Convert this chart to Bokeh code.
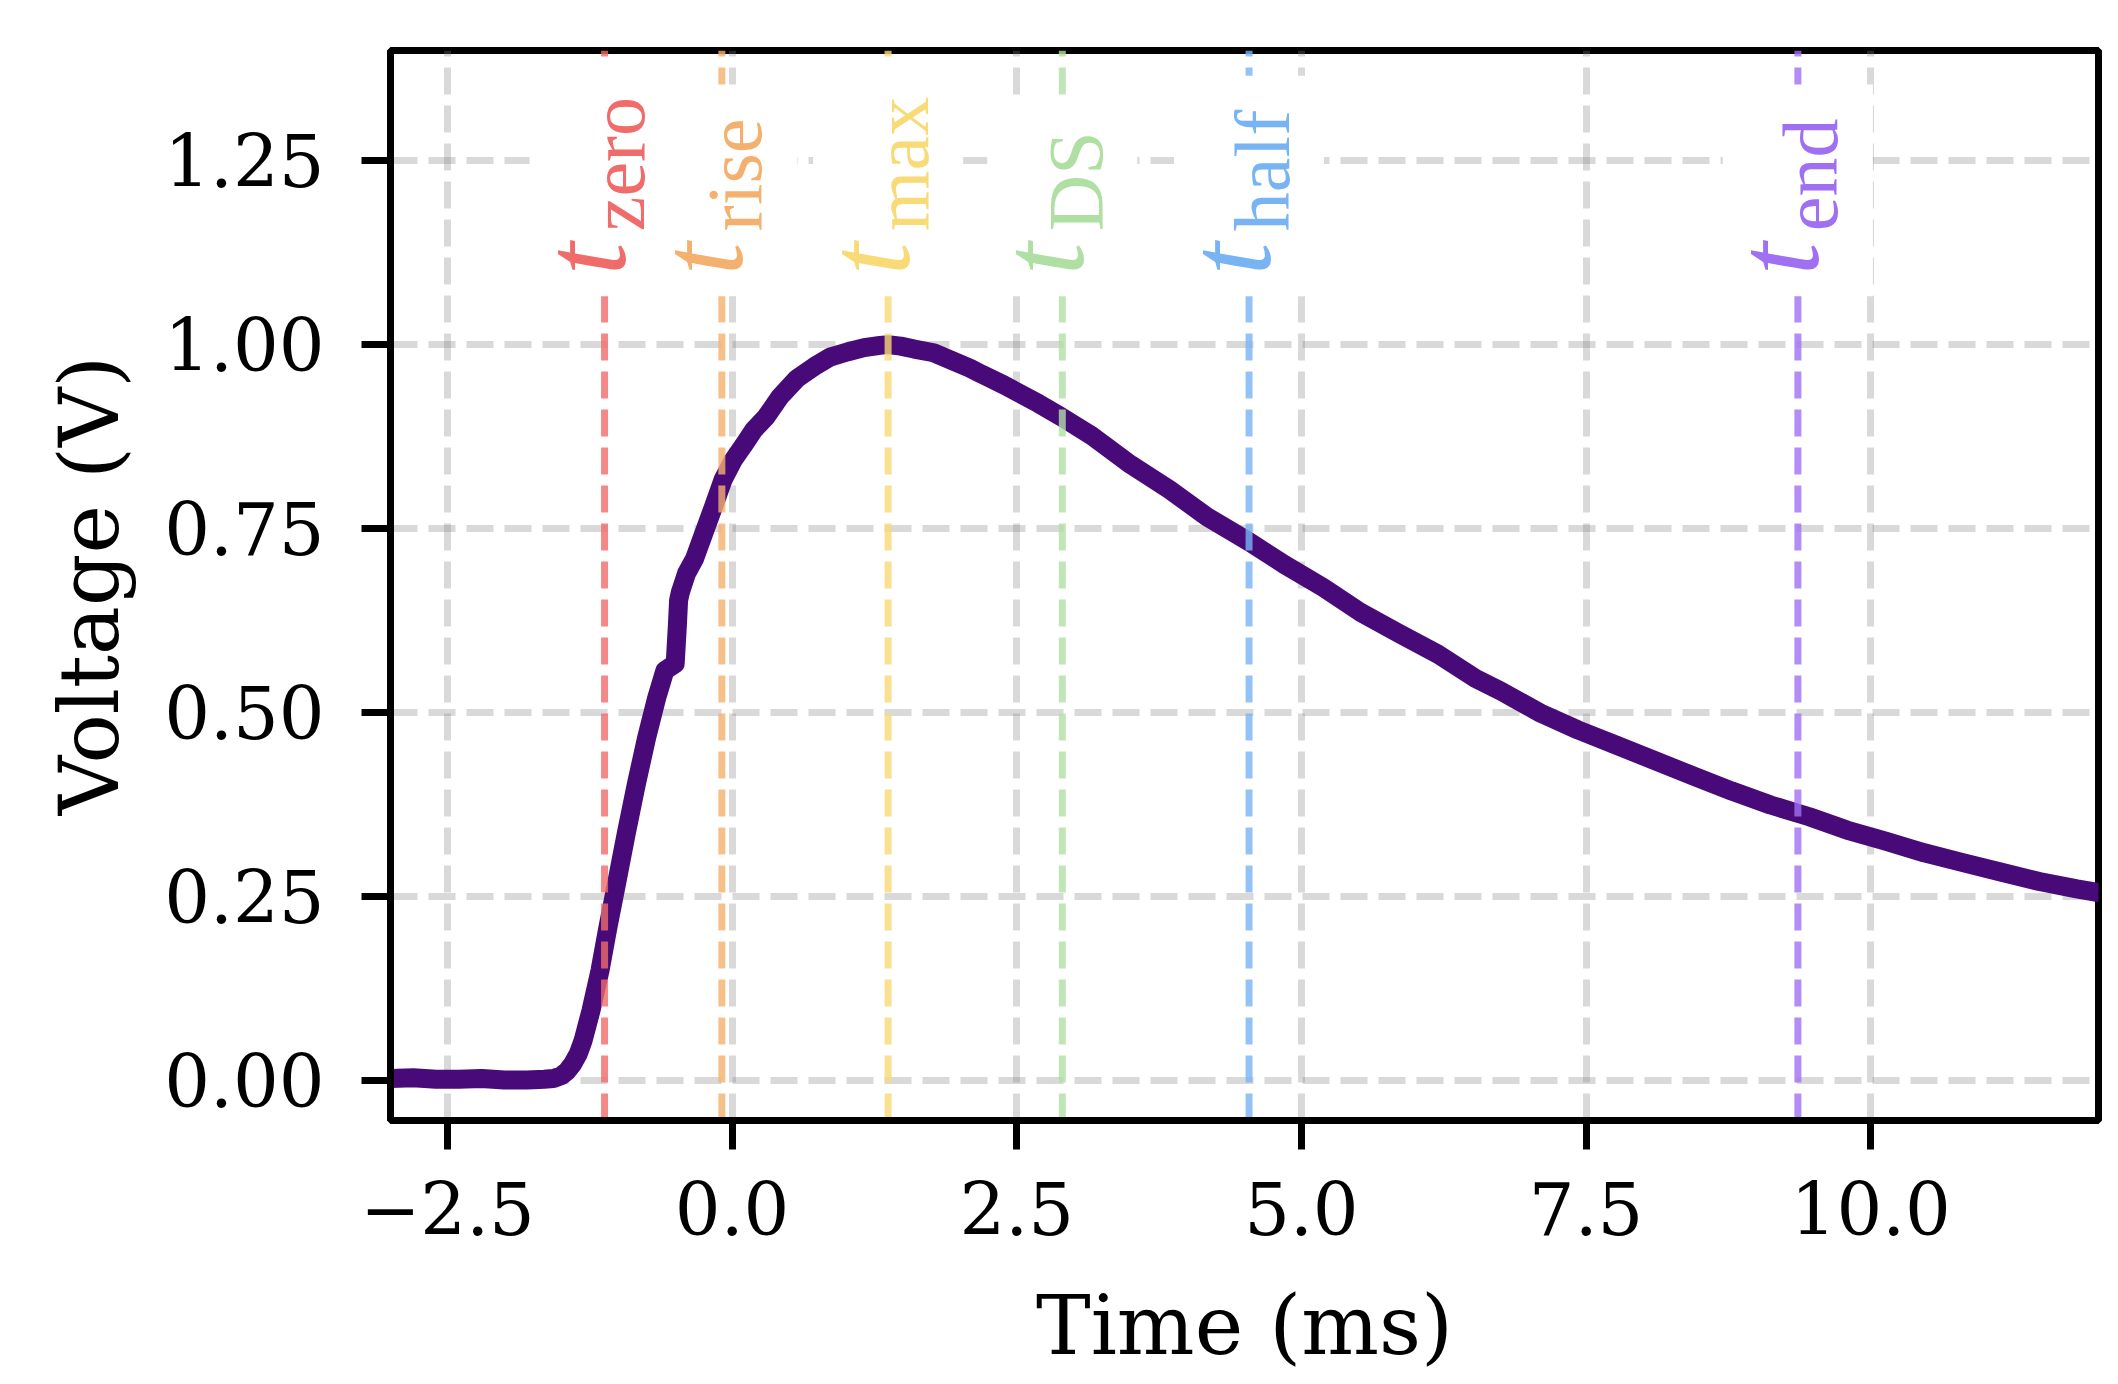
import math

from bokeh.core.properties import value
from bokeh.embed import file_html
from bokeh.models import ColumnDataSource, CustomJSTickFormatter, FixedTicker, Range1d
from bokeh.plotting import figure
from bokeh.resources import INLINE

# Normalised action-potential style voltage trace
time_ms = [
    -3.00, -2.80, -2.60, -2.40, -2.20, -2.00, -1.80, -1.65, -1.57,
    -1.50, -1.45, -1.40, -1.35, -1.31, -1.24, -1.16, -1.09, -1.015,
    -0.93, -0.84, -0.75, -0.66, -0.59, -0.55, -0.50, -0.48, -0.47,
    -0.455, -0.40, -0.33, -0.25, -0.165, -0.08, 0.01, 0.10, 0.19,
    0.30, 0.42, 0.57, 0.72, 0.86, 1.01, 1.16, 1.30, 1.37, 1.48,
    1.60, 1.77, 1.95, 2.09, 2.19, 2.39, 2.69, 2.89, 3.16, 3.50,
    3.84, 4.17, 4.54, 4.85, 5.19, 5.52, 5.86, 6.20, 6.53, 6.75,
    7.10, 7.43, 7.77, 8.11, 8.45, 8.78, 9.12, 9.46, 9.79, 10.13,
    10.47, 10.80, 11.14, 11.48, 11.81, 12.00,
]
voltage_v = [
    0.002, 0.003, 0.001, 0.001, 0.002, 0.000, 0.000, 0.001, 0.002,
    0.006, 0.012, 0.022, 0.036, 0.053, 0.094, 0.149, 0.208, 0.267,
    0.335, 0.403, 0.466, 0.521, 0.557, 0.561, 0.566, 0.620, 0.652,
    0.663, 0.689, 0.709, 0.743, 0.779, 0.816, 0.843, 0.863, 0.884,
    0.902, 0.929, 0.954, 0.970, 0.983, 0.990, 0.996, 0.999, 1.000, 0.998,
    0.994, 0.989, 0.977, 0.968, 0.960, 0.945, 0.920, 0.902, 0.876, 0.837,
    0.803, 0.766, 0.732, 0.701, 0.670, 0.636, 0.607, 0.579, 0.546, 0.529,
    0.499, 0.476, 0.455, 0.434, 0.413, 0.393, 0.374, 0.358, 0.340, 0.325,
    0.309, 0.296, 0.283, 0.270, 0.260, 0.255,
]

# Characteristic time points
marker_names = ["zero", "rise", "max", "DS", "half", "end"]
marker_times = [-1.12, -0.09, 1.37, 2.90, 4.54, 9.36]
marker_colors = ["#ef6c6a", "#f4b06e", "#f8da76", "#b0dfa4", "#78b4f4", "#a070f2"]

x_ticks = [-2.5, 0.0, 2.5, 5.0, 7.5, 10.0]
y_ticks = [0.0, 0.25, 0.5, 0.75, 1.0, 1.25]

X_MIN, X_MAX = -3.0, 12.0
Y_MIN, Y_MAX = -0.055, 1.40

W, H = 2118, 1384
B_LEFT, B_RIGHT, B_TOP, B_BOTTOM = 390, 20, 50, 264
px_per_volt = (H - B_TOP - B_BOTTOM) / (Y_MAX - Y_MIN)

SERIF = "DejaVu Serif"
LABEL_FONT = "Liberation Serif"
T_SIZE = 118
SUB_SIZE = 78

p = figure(
    width=W, height=H,
    x_range=Range1d(X_MIN, X_MAX), y_range=Range1d(Y_MIN, Y_MAX),
    output_backend="svg", toolbar_location=None,
    min_border_left=B_LEFT, min_border_right=B_RIGHT,
    min_border_top=B_TOP, min_border_bottom=B_BOTTOM,
    x_axis_label="Time (ms)", y_axis_label="Voltage (V)",
)
p.background_fill_color = "white"
p.border_fill_color = "white"
p.outline_line_color = "black"
p.outline_line_width = 7
p.outline_line_alpha = 1.0

p.xaxis.ticker = FixedTicker(ticks=x_ticks)
p.yaxis.ticker = FixedTicker(ticks=y_ticks)
p.xaxis.formatter = CustomJSTickFormatter(
    code="return (tick < 0 ? '\u2212' : '') + Math.abs(tick).toFixed(1);")
p.yaxis.formatter = CustomJSTickFormatter(
    code="return (tick < 0 ? '\u2212' : '') + Math.abs(tick).toFixed(2);")

for ax in (p.xaxis[0], p.yaxis[0]):
    ax.axis_line_color = "black"
    ax.axis_line_width = 7
    ax.major_tick_line_color = "black"
    ax.major_tick_line_width = 7
    ax.major_tick_out = 29
    ax.major_tick_in = 0
    ax.minor_tick_line_color = None
    ax.major_label_text_font = SERIF
    ax.major_label_text_font_size = "72px"
    ax.major_label_text_color = "black"
    ax.axis_label_text_font = SERIF
    ax.axis_label_text_font_size = "82px"
    ax.axis_label_text_font_style = "normal"
    ax.axis_label_text_color = "black"

p.xaxis.major_label_standoff = 32
p.yaxis.major_label_standoff = 37
p.xaxis.axis_label_standoff = 40
p.yaxis.axis_label_standoff = 24

p.grid.grid_line_color = "gray"
p.grid.grid_line_alpha = 0.3
p.grid.grid_line_width = 7
p.grid.grid_line_dash = "27 11"

# Voltage trace
p.line(time_ms, voltage_v, line_color="#470a78", line_width=19,
       line_join="round", line_cap="round")

# Dashed markers, drawn over the trace
p.segment(x0=marker_times, y0=[Y_MIN] * len(marker_times),
          x1=marker_times, y1=[Y_MAX] * len(marker_times),
          line_color=marker_colors, line_alpha=0.8, line_width=7,
          line_dash="27 11")

# Label geometry (vertical text reading upward)
char_em = {"a": .444, "d": .5, "e": .444, "f": .333, "h": .5, "i": .278,
           "l": .278, "m": .778, "n": .5, "o": .5, "r": .333, "s": .389,
           "x": .5, "z": .444, "D": .722, "S": .556}
t_start = 1.0945
sub_start = t_start + 44 / px_per_volt
box_bottom = t_start - 21 / px_per_volt
box_tops = [sub_start + (sum(char_em.get(c, .5) for c in name) * SUB_SIZE + 34) / px_per_volt
            for name in marker_names]

labels = ColumnDataSource(dict(
    x=marker_times,
    color=marker_colors,
    t=["t"] * len(marker_times),
    sub=marker_names,
    yt=[t_start] * len(marker_times),
    ys=[sub_start] * len(marker_times),
    box_y=[(box_bottom + top) / 2 for top in box_tops],
    box_h=[top - box_bottom for top in box_tops],
))

p.rect(x="x", y="box_y", width=150, height="box_h", width_units="screen",
       fill_color="white", line_color=None, source=labels)

p.text(x="x", y="yt", text="t", angle=math.pi / 2, x_offset=-19,
       text_font=value(LABEL_FONT), text_font_style="italic",
       text_font_size=f"{T_SIZE}px", text_color="color",
       text_align="left", text_baseline="alphabetic", source=labels)
p.text(x="x", y="ys", text="sub", angle=math.pi / 2, x_offset=13,
       text_font=value(LABEL_FONT), text_font_style="normal",
       text_font_size=f"{SUB_SIZE}px", text_color="color",
       text_align="left", text_baseline="alphabetic", source=labels)

open("out.html", "w").write(file_html(p, INLINE))
